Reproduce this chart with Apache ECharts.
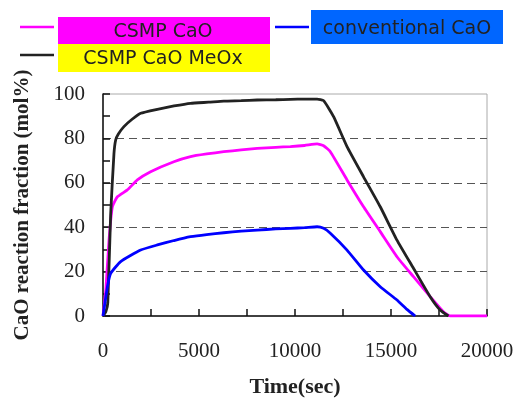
<!DOCTYPE html>
<html><head><meta charset="utf-8">
<script src="https://cdn.jsdelivr.net/npm/echarts@6/dist/echarts.min.js"></script>
<style>html,body{margin:0;padding:0;background:#fff}#c{width:515px;height:400px}</style>
</head><body><div id="c"></div>
<script>
// Series names
var seriesNames = ['CSMP CaO', 'CSMP CaO MeOx', 'conventional CaO'];
// CSMP CaO (magenta)
var magentaT = [0, 150, 312, 488, 750, 1270, 1790, 2480, 3690, 4560, 5400, 6290, 7200, 8030, 9000, 9760, 10500, 11150, 11490, 11840, 12710, 13570, 14440, 15310, 16170, 17040, 17730, 18080, 20000];
var magentaY = [0, 12, 34, 49.2, 53.7, 56.8, 61.3, 65, 69.5, 71.8, 73, 74, 74.8, 75.5, 76, 76.3, 76.8, 77.5, 76.7, 74, 61.3, 49.2, 38, 26.7, 17.7, 8.7, 1.9, 0, 0];
// CSMP CaO MeOx (black)
var blackT = [0, 150, 250, 400, 570, 660, 800, 1090, 1500, 1960, 2830, 3700, 4560, 5500, 6290, 7200, 8030, 9000, 9760, 10500, 11150, 11490, 12010, 12710, 13570, 14440, 15310, 16170, 17040, 17560, 17990];
var blackY = [0, 2, 6, 46, 73, 79.3, 82, 85.3, 88.5, 91.3, 93.1, 94.6, 95.8, 96.3, 96.8, 97.0, 97.3, 97.4, 97.6, 97.7, 97.7, 97, 89.8, 76.3, 62.7, 49.2, 34.2, 21.5, 8.7, 2.7, 0];
// conventional CaO (blue)
var blueT = [0, 230, 400, 920, 1960, 2830, 3700, 4560, 5400, 6290, 7200, 8030, 9000, 9760, 10500, 11150, 11490, 11840, 12710, 13570, 14440, 15310, 15830, 16260];
var blueY = [0, 13.2, 19.2, 24.5, 29.7, 32, 34, 35.7, 36.7, 37.5, 38.2, 38.7, 39.2, 39.5, 39.8, 40.2, 39.5, 37.3, 29.7, 20.7, 13.2, 7.2, 3, 0];

function pairs(t, y) { return t.map(function (v, i) { return [v, y[i]]; }); }

var chart = echarts.init(document.getElementById('c'));
var serif = '"Liberation Serif", "Times New Roman", serif';
var sans = '"DejaVu Sans", Verdana, sans-serif';
function line(color, d, name) {
  return { name: name, type: 'line', data: d, showSymbol: false, smooth: 0.15,
    lineStyle: { color: color, width: 2.8 }, itemStyle: { color: color }, z: 3 };
}
function ticks() { return { color: '#111', width: 1.5 }; }
chart.setOption({
  animation: false,
  grid: { left: 103, right: 28, top: 94, bottom: 84, show: true, borderColor: '#aaa', borderWidth: 1,
    containLabel: false, outerBoundsMode: 'none' },
  xAxis: {
    type: 'value', min: 0, max: 20000, interval: 5000,
    name: 'Time(sec)', nameLocation: 'middle', nameGap: 60,
    nameTextStyle: { fontFamily: serif, fontWeight: 'bold', fontSize: 22, color: '#222' },
    axisLine: { lineStyle: { color: '#111', width: 1.5 } },
    axisTick: { show: true, inside: true, length: 7, lineStyle: ticks() },
    minorTick: { show: true, splitNumber: 2, length: 7, lineStyle: ticks() },
    axisLabel: { fontFamily: serif, fontSize: 21, color: '#222', margin: 25,
      formatter: function (v) { return String(v); } },
    splitLine: { show: false }
  },
  yAxis: {
    type: 'value', min: 0, max: 100, interval: 20,
    name: 'CaO reaction fraction (mol%)', nameLocation: 'middle', nameGap: 70,
    nameTextStyle: { fontFamily: serif, fontWeight: 'bold', fontSize: 21, color: '#222' },
    axisLine: { lineStyle: { color: '#111', width: 1.5 } },
    axisTick: { show: true, inside: true, length: 7, lineStyle: ticks() },
    minorTick: { show: true, splitNumber: 2, length: 7, lineStyle: ticks() },
    axisLabel: { fontFamily: serif, fontSize: 21, color: '#222', margin: 18 },
    splitLine: { show: true, lineStyle: { type: [8, 5], width: 1.2,
      color: ['transparent', '#555', '#555', '#555', '#555', 'transparent'] } }
  },
  series: [
    line('#ff00ff', pairs(magentaT, magentaY), seriesNames[0]),
    line('#222222', pairs(blackT, blackY), seriesNames[1]),
    line('#0000ff', pairs(blueT, blueY), seriesNames[2])
  ],
  graphic: [
    { type: 'rect', shape: { x: 58, y: 17, width: 212, height: 27 }, style: { fill: '#ff00ff' } },
    { type: 'rect', shape: { x: 58, y: 44, width: 212, height: 28 }, style: { fill: '#ffff00' } },
    { type: 'rect', shape: { x: 311, y: 10, width: 192, height: 34 }, style: { fill: '#0066ff' } },
    { type: 'line', shape: { x1: 20, y1: 27, x2: 54, y2: 27 }, style: { stroke: '#ff00ff', lineWidth: 2.5 } },
    { type: 'line', shape: { x1: 20, y1: 55, x2: 54, y2: 55 }, style: { stroke: '#222', lineWidth: 2.5 } },
    { type: 'line', shape: { x1: 275, y1: 27, x2: 309, y2: 27 }, style: { stroke: '#0000ff', lineWidth: 2.5 } },
    { type: 'text', style: { x: 163, y: 32, text: seriesNames[0], align: 'center', verticalAlign: 'middle', font: '19px ' + sans, fill: '#222' } },
    { type: 'text', style: { x: 163, y: 59, text: seriesNames[1], align: 'center', verticalAlign: 'middle', font: '19px ' + sans, fill: '#222' } },
    { type: 'text', style: { x: 407, y: 29, text: seriesNames[2], align: 'center', verticalAlign: 'middle', font: '19px ' + sans, fill: '#222' } }
  ]
});
</script></body></html>
